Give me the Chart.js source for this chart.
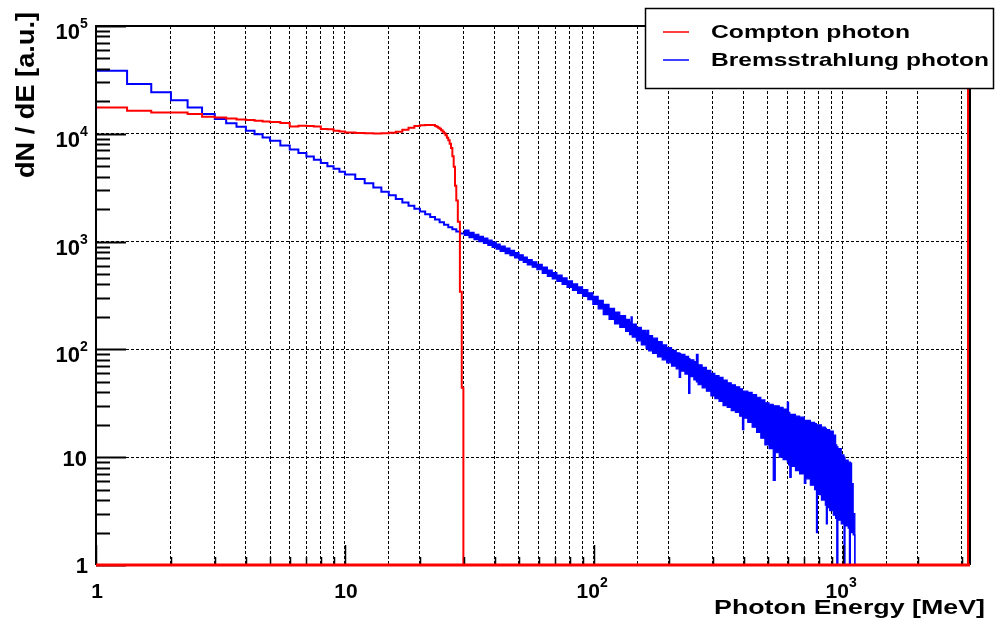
<!DOCTYPE html>
<html>
<head>
<meta charset="utf-8">
<script src="https://cdn.jsdelivr.net/npm/chart.js@4.4.1/dist/chart.umd.min.js"></script>
<style>
  html, body { margin: 0; background: #fff; }
  #spectrum { display: block; }
</style>
</head>
<body>
<canvas id="spectrum" width="996" height="620"></canvas>
<script>
// Compton photon spectrum: bin low edges [MeV] and dN/dE (empty bins shown as 1)
const comptonE = [1, 1.333, 1.667, 2, 2.333, 2.667, 3, 3.333, 3.667, 4, 4.333, 4.667,
  5, 5.5, 6, 6.5, 7, 7.5, 8, 8.5, 9, 9.5,
  10, 11, 12, 13, 14, 15, 16, 17, 18, 19, 20, 21, 22,
  23, 23.333, 23.667, 24, 24.333, 24.667, 25, 25.333, 25.667, 26, 26.333, 26.667,
  27, 27.333, 27.667, 28, 28.4, 28.95, 29.45, 29.9, 3180, 3240];
const comptonN = [17500, 16400, 15800, 15800, 15300, 14400, 14200, 13900, 13600, 13400, 13200, 13000,
  12900, 12600, 11700, 11900, 11800, 11700, 11100, 11000, 10700, 10500,
  10300, 10150, 10100, 10050, 10100, 10200, 10450, 10900, 11400, 11800, 12000, 12100, 12050,
  11800, 11600, 11400, 11150, 10800, 10450, 10100, 9700, 9200, 8700, 8100, 7400,
  6200, 4950, 3300, 2400, 1530, 343, 44, 1, 1e6, 1e6];

// Bremsstrahlung photon, clean low-energy part
const bremLowE = [1, 1.333, 1.667, 2, 2.333, 2.667, 3, 3.333, 3.667, 4, 4.333, 4.667,
  5, 5.5, 6, 6.5, 7, 7.5, 8, 8.5, 9, 9.5,
  10, 11, 12, 13, 14, 15, 16, 17, 18, 19, 20, 21, 22, 23, 24, 25, 26, 27, 28, 29, 30];
const bremLowN = [38500, 29000, 24300, 20500, 17500, 15300, 13700, 12500, 11600, 10700, 9900, 9250,
  8600, 7800, 7150, 6650, 6150, 5750, 5350, 5000, 4750, 4450,
  4200, 3800, 3480, 3170, 2900, 2690, 2480, 2310, 2150, 2020, 1900, 1790, 1690, 1600, 1510,
  1430, 1360, 1300, 1240, 1190, 1190];

// Bremsstrahlung photon, noisy high-energy part: upper and lower edge of the fluctuation band
const bremE = [30, 31.5, 33, 34.5, 36, 37.5, 39, 40.5, 42, 44, 46, 48, 50, 52, 54, 56.5, 59, 62, 65, 68,
  71, 74.5, 78, 82, 86, 90, 94.5, 99, 104, 109, 115, 121, 127, 134, 139, 141, 142.5, 148, 155, 162,
  164, 166, 172, 180, 188, 196, 205, 214, 220, 223, 232, 240, 243, 252, 258, 262, 272, 283, 295, 306,
  318, 330, 343, 356, 370, 385, 395, 400, 415, 432, 450, 468, 486, 505, 525, 535, 555, 575, 598, 605,
  612, 620, 645, 670, 700, 710, 740, 770, 783, 790, 820, 850, 858, 866, 885, 915, 935, 945, 955, 985,
  1010, 1020, 1050, 1062, 1072, 1084, 1100, 1117, 3240];
const bremHi = [1280, 1220, 1170, 1120, 1080, 1030, 990, 950, 910, 870, 830, 790, 755, 720, 680, 650, 615, 580, 545, 515,
  490, 460, 432, 405, 380, 358, 335, 310, 285, 262, 240, 222, 206, 190, 180, 200, 172, 160, 150, 140,
  150, 134, 127, 118, 110, 104, 98, 93, 92, 90, 86, 82, 80, 77, 90, 72, 68, 64, 60, 57,
  55, 52, 49, 47, 45, 43, 41, 41, 40, 38, 36, 34, 32, 31, 30, 30, 29, 28, 32.5, 26,
  25, 25, 24, 23.5, 22, 22, 21, 20.5, 20, 20, 19, 18.5, 18, 18, 17.5, 16, 13, 12.5, 12, 10.5,
  10, 9.4, 9, 9, 8.8, 5.7, 3, 1, 1];
const bremLo = [1140, 1090, 1045, 1000, 960, 920, 885, 850, 812, 775, 740, 705, 672, 642, 607, 578, 548, 508, 476, 450,
  427, 400, 376, 352, 330, 310, 290, 262, 238, 210, 190, 172, 160, 147, 137, 138, 130, 120, 110, 102,
  100, 97, 92, 85, 80, 75, 70, 66, 55, 63, 59, 39, 56, 52, 50, 47, 44, 41, 37, 35,
  33, 30, 29, 27, 26, 24, 18, 23, 21, 19, 17, 15, 13, 12, 6.1, 11, 10, 9.5, 9, 8.5,
  6.5, 8.2, 7.5, 7, 5.7, 6.3, 5.5, 5, 2, 4.5, 4, 3.6, 2.4, 3.4, 3.2, 2.9, 2.7, 1, 2.6, 2.4,
  1, 2.3, 2.2, 1, 2.1, 2, 1.9, 1, 1];

const xMin = 1, xMax = 3240, yMin = 1, yMax = 1e5;
const xLabelDecades = [0, 1, 2, 3];
const yLabelDecades = [0, 1, 2, 3, 4, 5];
const seriesNames = ["Compton photon", "Bremsstrahlung photon"];
const axisTitles = { x: "Photon Energy [MeV]", y: "dN / dE [a.u.]" };

const RED = "#ff0000", BLUE = "#0000ff";
const FONT = '"Liberation Sans", Arial, Helvetica, sans-serif';

const pts = (xs, ys) => xs.map((e, i) => ({ x: e, y: ys[i] }));
// histogram outline as explicit corners: each bin is flat from its edge to the next edge
const histPts = (edges, vals) => {
  const out = [];
  for (let i = 0; i < edges.length - 1; i++) {
    out.push({ x: edges[i], y: vals[i] }, { x: edges[i + 1], y: vals[i] });
  }
  return out;
};
const isDecade = v => { const l = Math.log10(v); return Math.abs(l - Math.round(l)) < 1e-9; };

// text helper, optionally stretched to a target width like the ROOT output
function drawText(ctx, text, x, y, size, align, width, rot) {
  ctx.save();
  ctx.font = `bold ${size}px ${FONT}`;
  ctx.fillStyle = "#000";
  ctx.textBaseline = "alphabetic";
  ctx.textAlign = align;
  const sx = width ? width / ctx.measureText(text).width : 1;
  ctx.translate(x, y);
  if (rot) ctx.rotate(rot);
  ctx.scale(sx, 1);
  ctx.fillText(text, 0, 0);
  ctx.restore();
}

const rootStyle = {
  id: "rootStyle",
  afterDraw(chart) {
    const { ctx, chartArea: a, scales: { x, y } } = chart;
    ctx.save();
    ctx.strokeStyle = "#000";

    // tick marks (inside the frame, ROOT style)
    ctx.lineWidth = 2;
    for (let k = 0; k <= 5; k++) {
      for (let m = 1; m <= 9; m++) {
        const v = m * Math.pow(10, k);
        if (v > yMax) break;
        const py = Math.round(y.getPixelForValue(v)) + 0.5;
        ctx.beginPath();
        ctx.moveTo(a.left, py);
        ctx.lineTo(a.left + (m === 1 ? 30 : 14), py);
        ctx.stroke();
      }
    }
    ctx.lineWidth = 1.5;
    for (let k = 0; k <= 3; k++) {
      for (let m = 1; m <= 9; m++) {
        const v = m * Math.pow(10, k);
        if (v > xMax) break;
        const px = Math.round(x.getPixelForValue(v)) + 0.5;
        ctx.beginPath();
        ctx.moveTo(px, a.bottom);
        ctx.lineTo(px, a.bottom - (m === 1 ? 20 : 8));
        ctx.stroke();
      }
    }

    // frame
    ctx.lineWidth = 2;
    ctx.beginPath();
    ctx.moveTo(a.left, a.bottom); ctx.lineTo(a.left, a.top);
    ctx.lineTo(a.right, a.top); ctx.lineTo(a.right, a.bottom);
    ctx.stroke();
    ctx.strokeStyle = RED;
    ctx.lineWidth = 3;
    ctx.beginPath();
    ctx.moveTo(a.left, a.bottom); ctx.lineTo(a.right, a.bottom);
    ctx.stroke();

    // y tick labels
    yLabelDecades.forEach(k => {
      const py = y.getPixelForValue(Math.pow(10, k));
      if (k === 0) drawText(ctx, "1", a.left - 8, py + 8, 22, "right");
      else if (k === 1) drawText(ctx, "10", a.left - 9, py + 9, 22, "right");
      else {
        drawText(ctx, "10", a.left - 16, py + 13, 22, "right");
        drawText(ctx, String(k), a.left - 16, py + 2, 14, "left");
      }
    });
    // x tick labels
    xLabelDecades.forEach(k => {
      const px = x.getPixelForValue(Math.pow(10, k));
      if (k === 0) drawText(ctx, "1", px + 1, 598, 21, "center");
      else if (k === 1) drawText(ctx, "10", px + 1, 598, 21, "center");
      else {
        drawText(ctx, "10", px + 6, 598, 21, "right");
        drawText(ctx, String(k), px + 6, 587, 14, "left");
      }
    });

    // axis titles
    drawText(ctx, axisTitles.x, 985, 614, 20, "right", 271);
    drawText(ctx, axisTitles.y, 34, 12, 26, "right", 166, -Math.PI / 2);

    // legend
    ctx.fillStyle = "#fff";
    ctx.fillRect(645, 8, 349, 81);
    ctx.strokeStyle = "#000";
    ctx.lineWidth = 1.5;
    ctx.strokeRect(645.5, 8.5, 348, 80);
    [[RED, 32, 38], [BLUE, 60, 66]].forEach(([c, ly, by], i) => {
      ctx.strokeStyle = c;
      ctx.lineWidth = 1.5;
      ctx.beginPath();
      ctx.moveTo(663, ly); ctx.lineTo(689, ly);
      ctx.stroke();
      drawText(ctx, seriesNames[i], 711, by, 19, "left", i === 0 ? 199 : 278);
    });
    ctx.restore();
  }
};

const gridColor = ctx => {
  const v = ctx.tick && ctx.tick.value;
  return v > xMin * 1.0001 && v < xMax * 0.999 ? "#000" : "rgba(0,0,0,0)";
};

new Chart(document.getElementById("spectrum"), {
  type: "line",
  data: {
    datasets: [
      {
        label: seriesNames[0],
        data: pts(comptonE, comptonN),
        borderColor: RED,
        borderWidth: 2,
        stepped: true,
        pointRadius: 0,
        fill: false,
        clip: { left: 0, top: 0, right: 0, bottom: 2 }
      },
      {
        label: seriesNames[1],
        data: pts(bremLowE, bremLowN),
        borderColor: BLUE,
        borderWidth: 2,
        stepped: true,
        pointRadius: 0,
        fill: false
      },
      {
        label: seriesNames[1] + " (upper)",
        data: histPts(bremE, bremHi),
        borderColor: BLUE,
        backgroundColor: BLUE,
        borderWidth: 1.2,
        pointRadius: 0,
        fill: { target: "+1", above: BLUE, below: BLUE },
        clip: { left: 0, top: 0, right: 0, bottom: 2 }
      },
      {
        label: seriesNames[1] + " (lower)",
        data: histPts(bremE, bremLo),
        borderColor: BLUE,
        borderWidth: 1.2,
        pointRadius: 0,
        fill: false,
        clip: { left: 0, top: 0, right: 0, bottom: 2 }
      }
    ]
  },
  options: {
    responsive: false,
    animation: false,
    events: [],
    layout: { padding: { left: 96, right: 26, top: 26, bottom: 55 } },
    plugins: { legend: { display: false }, tooltip: { enabled: false } },
    scales: {
      x: {
        type: "logarithmic",
        min: xMin,
        max: xMax,
        ticks: { display: false },
        grid: { color: gridColor, lineWidth: 1, drawTicks: false },
        border: { display: false, dash: [3, 2] },
        afterFit: s => { s.height = 0; }
      },
      y: {
        type: "logarithmic",
        min: yMin,
        max: yMax,
        ticks: { display: false },
        grid: {
          color: ctx => {
            const v = ctx.tick && ctx.tick.value;
            return isDecade(v) && v > yMin && v < yMax ? "#000" : "rgba(0,0,0,0)";
          },
          lineWidth: 1,
          drawTicks: false
        },
        border: { display: false, dash: [3, 2] },
        afterFit: s => { s.width = 0; }
      }
    }
  },
  plugins: [rootStyle]
});
</script>
</body>
</html>
